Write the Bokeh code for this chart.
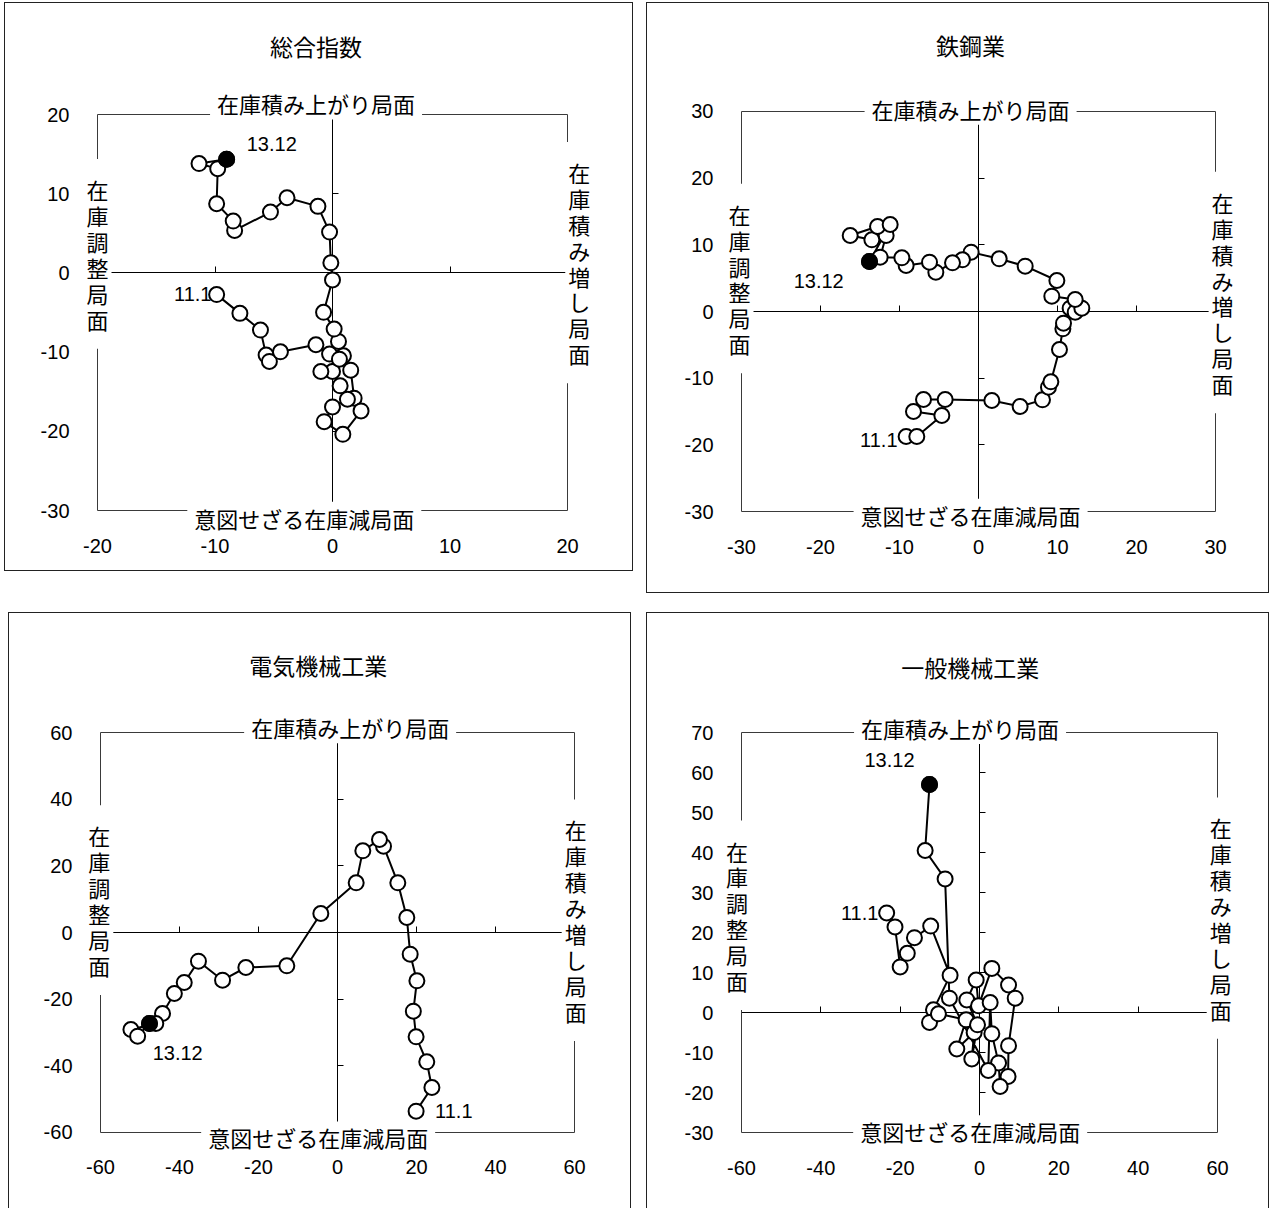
from bokeh.plotting import figure
from bokeh.models import (LinearAxis, Label, Range1d, SingleIntervalTicker,
                          CustomJSTickFormatter, ColumnDataSource, Spacer)
from bokeh.layouts import row, column
from bokeh.embed import file_html
from bokeh.resources import INLINE

JP = "Noto Sans CJK JP"
NUM = "Liberation Sans"

# ---------------- data ----------------
titles = ["総合指数", "鉄鋼業", "電気機械工業", "一般機械工業"]
top_label = "在庫積み上がり局面"
bottom_label = "意図せざる在庫減局面"
left_label = "在庫調整局面"
right_label = "在庫積み増し局面"
first_label = "11.1"
last_label = "13.12"

# 総合指数 (x: production growth, y: inventory growth), 11.1 -> 13.12
sogo_x = [-9.86, -7.88, -6.13, -5.65, -5.37, -4.43, -1.41, -0.25, 0.93, 1.55,
          1.84, 2.43, 0.88, -0.71, 0.00, 1.27, 0.65, 0.00, -0.99, 0.59,
          0.51, 0.14, -0.76, 0.00, -0.14, -0.25, -1.24, -3.87, -5.28, -8.33,
          -8.45, -9.86, -9.77, -11.36, -9.01]
sogo_y = [-2.74, -5.11, -7.22, -10.38, -11.18, -9.96, -9.07, -10.25, -10.46, -12.28,
          -15.82, -17.43, -20.38, -18.78, -16.92, -15.95, -14.26, -12.45, -12.45, -10.89,
          -8.65, -7.09, -4.98, -0.89, 1.27, 5.15, 8.40, 9.49, 7.68, 5.36,
          6.54, 8.73, 13.16, 13.80, 14.35]

# 鉄鋼業
tekko_x = [-9.16, -7.81, -4.64, -8.23, -6.96, -4.22, 1.69, 5.27, 8.10, 8.86,
           9.16, 10.25, 10.68, 10.76, 11.60, 12.24, 13.08, 12.24, 9.28, 9.92,
           5.91, 2.62, -0.93, -2.03, -3.29, -5.40, -6.20, -9.16, -9.70, -12.45,
           -11.69, -13.50, -16.24, -12.78, -11.18, -13.80]
tekko_y = [-18.75, -18.75, -15.60, -15.00, -13.20, -13.20, -13.35, -14.25, -13.25, -11.35,
           -10.55, -5.70, -2.60, -1.75, 0.50, -0.10, 0.50, 1.80, 2.30, 4.65,
           6.80, 7.90, 8.90, 7.75, 7.30, 5.90, 7.40, 6.90, 8.05, 8.15,
           11.40, 10.75, 11.40, 12.75, 13.05, 7.50]

# 電気機械工業
denki_x = [19.9, 23.9, 22.6, 19.9, 19.2, 20.1, 18.4, 17.55, 15.27, 11.65,
           10.63, 6.41, 4.73, -4.22, -12.83, -23.2, -29.1, -35.2, -38.8, -41.3,
           -44.3, -46.0, -52.3, -50.6, -47.6]
denki_y = [-53.6, -46.5, -38.8, -31.3, -23.6, -14.5, -6.5, 4.5, 14.9, 25.9,
           27.9, 24.5, 14.9, 5.7, -10.0, -10.5, -14.3, -8.6, -15.0, -18.3,
           -24.3, -27.3, -29.1, -31.1, -27.3]

# 一般機械工業
ippan_x = [-23.4, -21.3, -20.0, -18.2, -16.4, -12.3, -7.41, -11.6, -12.6, -10.35,
           -3.37, -5.72, -1.35, -1.94, -0.5, -3.2, -0.84, -0.25, 3.11, 7.32,
           9.0, 7.32, 7.2, 5.2, 4.8, 3.11, 2.69, 2.2, -7.58, -8.67,
           -13.7, -12.6]
ippan_y = [24.9, 21.4, 11.4, 14.8, 18.7, 21.6, 9.29, 0.66, -2.49, -0.33,
           -1.82, -9.12, -4.98, -11.6, -3.07, 3.15, 8.13, 1.66, 11.03, 6.88,
           3.57, -8.29, -16.0, -18.5, -12.6, -5.3, 2.49, -14.5, 3.57, 33.4,
           40.5, 57.0]

series = [(sogo_x, sogo_y), (tekko_x, tekko_y), (denki_x, denki_y), (ippan_x, ippan_y)]

# ---------------- layout (positions / styles) ----------------
# fx, fy, fw, fh: figure box on the page; zx, zy: page pixel of data origin;
# sx, sy: pixels per unit; xb, yb: inner box bounds
cfgs = [
    dict(fx=4, fy=2, fw=629, fh=569, zx=332, zy=272.4, sx=11.75, sy=7.92,
         xb=(-20, 20), yb=(-30, 20), xt=10, yt=10, closed=True,
         title=(-1.4, 28.6), top=(-1.4, 21.4), bottom=(-2.4, -30.9), left=(-20.0, 2.4),
         right=(21.0, 1.3), first=(-10.3, -2.66, "right"), last=(-7.3, 16.3, "left")),
    dict(fx=646, fy=2, fw=623, fh=591, zx=978, zy=311, sx=7.9, sy=6.667,
         xb=(-30, 30), yb=(-30, 30), xt=10, yt=10, closed=True,
         title=(-1.0, 39.9), top=(-1.0, 30.4), bottom=(-1.0, -30.5), left=(-30.25, 4.95),
         right=(30.9, 2.85), first=(-10.25, -19.3, "right"), last=(-23.4, 4.6, "left")),
    dict(fx=8, fy=612, fw=623, fh=596, zx=337, zy=932, sx=3.95, sy=3.333,
         xb=(-60, 60), yb=(-60, 60), xt=20, yt=20, closed=False,
         title=(-4.9, 80.3), top=(3.2, 61.6), bottom=(-4.9, -61.5), left=(-60.3, 9.7),
         right=(60.3, 3.7), first=(24.7, -53.5, "left"), last=(-46.8, -36.3, "left")),
    dict(fx=646, fy=612, fw=623, fh=596, zx=979, zy=1012, sx=3.967, sy=4.0,
         xb=(-60, 60), yb=(-30, 70), xt=20, yt=10, closed=False,
         title=(-2.35, 86.5), top=(-4.9, 71.1), bottom=(-2.35, -29.7), left=(-61.1, 24.3),
         right=(60.8, 23.6), first=(-25.5, 25.0, "right"), last=(-29.0, 63.1, "left")),
]

FRAME = "#3a3a3a"
EMPTY = "return ''"
INTFMT = "return String(Math.round(tick))"


def make_panel(i):
    c = cfgs[i]
    xs, ys = series[i]
    x0 = (c["fx"] - c["zx"]) / c["sx"]
    x1 = (c["fx"] + c["fw"] - c["zx"]) / c["sx"]
    y0 = (c["zy"] - (c["fy"] + c["fh"])) / c["sy"]
    y1 = (c["zy"] - c["fy"]) / c["sy"]
    p = figure(width=c["fw"], height=c["fh"],
               x_range=Range1d(x0, x1), y_range=Range1d(y0, y1),
               x_axis_location=None, y_axis_location=None, min_border=0,
               output_backend="svg", toolbar_location=None,
               background_fill_color=None, border_fill_color=None)
    shadow = "inset 1px 1px 0 #222222, inset -1px 0 0 #222222"
    if c["closed"]:
        shadow += ", inset 0 -1px 0 #222222"
    p.styles = {"box-shadow": shadow, "background-color": "white"}
    p.grid.visible = False
    p.outline_line_color = None

    def frame_axis(loc, bounds, t, labels):
        return LinearAxis(fixed_location=loc, bounds=bounds,
                          ticker=SingleIntervalTicker(interval=t),
                          formatter=CustomJSTickFormatter(code=INTFMT if labels else EMPTY),
                          axis_line_color=FRAME, axis_line_width=1,
                          major_tick_line_color=None, minor_tick_line_color=None,
                          major_label_standoff=22 if labels else 0,
                          major_label_text_font=NUM, major_label_text_font_size="20px",
                          major_label_text_color="black", level="underlay")

    p.add_layout(frame_axis(c["xb"][0], c["yb"], c["yt"], True), "left")
    p.add_layout(frame_axis(c["yb"][0], c["xb"], c["xt"], True), "below")
    p.add_layout(frame_axis(c["xb"][1], c["yb"], c["yt"], False), "right")
    p.add_layout(frame_axis(c["yb"][1], c["xb"], c["xt"], False), "above")

    # zero-crossing axes
    for bounds, t, side in ((c["yb"], c["yt"], "left"), (c["xb"], c["xt"], "below")):
        ax = LinearAxis(fixed_location=0, bounds=bounds,
                        ticker=SingleIntervalTicker(interval=t),
                        formatter=CustomJSTickFormatter(code=EMPTY),
                        major_tick_in=6, major_tick_out=0, minor_tick_line_color=None,
                        axis_line_color="black", major_tick_line_color="black",
                        major_label_standoff=0, level="image")
        p.add_layout(ax, side)

    src = ColumnDataSource(dict(x=xs, y=ys))
    last = ColumnDataSource(dict(x=xs[-1:], y=ys[-1:]))
    p.line("x", "y", source=src, line_color="black", line_width=2)
    p.scatter("x", "y", source=src, size=15, fill_color="white",
              line_color="black", line_width=2)
    p.scatter("x", "y", source=last, size=15, fill_color="black",
              line_color="black", line_width=2)

    def lab(text, pos, size="22px", align="center", font=JP, pad=None, lh=1.0):
        kw = dict(x=pos[0], y=pos[1], text=text, text_font=font, text_font_size=size,
                  text_align=align, text_baseline="middle", text_color="black",
                  text_line_height=lh, level="underlay")
        if pad is not None:
            kw.update(background_fill_color="white", padding=pad)
        p.add_layout(Label(**kw))

    lab(titles[i], c["title"], size="23px")
    lab(top_label, c["top"], pad=dict(x=7, y=0))
    lab(bottom_label, c["bottom"], pad=dict(x=7, y=0))
    lab("\n".join(left_label), c["left"], lh=0.81, pad=dict(x=3, y=14))
    lab("\n".join(right_label), c["right"], lh=0.81, pad=dict(x=3, y=14))
    fx, fy, fa = c["first"]
    lab(first_label, (fx, fy), size="20px", align=fa, font=NUM)
    lx, ly, la = c["last"]
    lab(last_label, (lx, ly), size="20px", align=la, font=NUM)
    return p


panels = [make_panel(i) for i in range(4)]
layout = column(
    Spacer(height=2),
    row(Spacer(width=4), panels[0], Spacer(width=13), panels[1]),
    Spacer(height=19),
    row(Spacer(width=8), panels[2], Spacer(width=15), panels[3]),
)

open("out.html", "w").write(file_html(layout, INLINE))
